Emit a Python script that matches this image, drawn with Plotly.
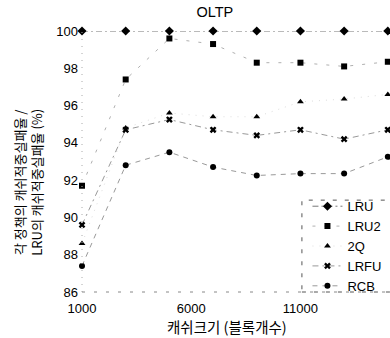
import plotly.graph_objects as go

cache_sizes = [1000, 3000, 5000, 7000, 9000, 11000, 13000, 15000]
lru = [100, 100, 100, 100, 100, 100, 100, 100]
lru2 = [91.7, 97.4, 99.6, 99.3, 98.3, 98.3, 98.1, 98.35]
twoq = [88.6, 94.8, 95.6, 95.4, 95.4, 96.2, 96.35, 96.6]
lrfu = [89.6, 94.7, 95.25, 94.7, 94.4, 94.7, 94.2, 94.7]
rcb = [87.4, 92.8, 93.5, 92.7, 92.25, 92.35, 92.35, 93.25]

series_names = ["LRU", "LRU2", "2Q", "LRFU", "RCB"]
x_title = "캐쉬크기 (블록개수)"
y_title = "각 정책의 캐쉬적중실패율 /<br>LRU의 캐쉬적중실패율 (%)"
chart_title = "OLTP"

styles = [
    # symbol, size, line color, dash
    ("diamond", 7, "#777777", "6px,3px,2px,3px"),
    ("square", 6, "#b0b0b0", "3px,9px"),
    ("triangle-up", 6, "#dddddd", "1px,6px"),
    ("x", 6, "#999999", "6px,4px,2px,4px"),
    ("circle", 6, "#999999", "5px,5px"),
]

fig = go.Figure()
for name, vals, (sym, size, lc, dash) in zip(series_names, [lru, lru2, twoq, lrfu, rcb], styles):
    fig.add_trace(go.Scatter(
        x=cache_sizes, y=vals, name=name, mode="lines+markers",
        line=dict(color=lc, width=1, dash=dash),
        marker=dict(symbol=sym, size=size, color="black", line=dict(width=0)),
        cliponaxis=False,
    ))

font_main = "Liberation Sans, Arial, sans-serif"
font_kr = "Noto Sans CJK KR, sans-serif"
fig.update_layout(
    width=390, height=338,
    margin=dict(l=82, r=0, t=31, b=46, autoexpand=False),
    paper_bgcolor="white", plot_bgcolor="white",
    font=dict(family=font_main, size=13, color="black"),
    title=dict(text=chart_title, x=0.551, xanchor="center", y=0.9645, yanchor="middle",
               font=dict(size=14.5, family=font_main)),
    showlegend=True,
    legend=dict(x=0.732, xanchor="left", y=0.386, yanchor="top",
                bgcolor="rgba(255,255,255,0)", borderwidth=0,
                font=dict(size=13, family=font_main),
                tracegroupgap=0),
    xaxis=dict(range=[1000, 15100], tickvals=[1000, 6000, 11000],
               ticktext=["1000", "6000", "11000"], showgrid=False, zeroline=False,
               showline=False, ticks="", ticklabelstandoff=7, automargin=False,
               tickfont=dict(size=13)),
    yaxis=dict(range=[86, 100], tickvals=[86, 88, 90, 92, 94, 96, 98, 100],
               showgrid=False, zeroline=False, showline=False, ticks="",
               ticklabelstandoff=3, automargin=False, tickfont=dict(size=13)),
    annotations=[
        dict(text=x_title, xref="paper", yref="paper", x=0.47, y=-0.134,
             xanchor="center", yanchor="middle", showarrow=False,
             font=dict(size=14.5, family=font_kr)),
        dict(text=y_title, xref="paper", yref="paper", x=-0.174, y=0.42,
             xanchor="center", yanchor="middle", showarrow=False, textangle=-90,
             font=dict(size=13, family=font_kr)),
    ],
)

# dotted axis lines
fig.add_shape(type="line", xref="paper", yref="paper", x0=0, x1=0, y0=0, y1=1,
              line=dict(color="#aaaaaa", width=1, dash="1px,6px"))
fig.add_shape(type="line", xref="paper", yref="paper", x0=0, x1=1, y0=0, y1=0,
              line=dict(color="#888888", width=1, dash="3px,9px"))
# dashed legend border
fig.add_shape(type="rect", xref="paper", yref="paper", x0=0.714, x1=1.05, y0=0, y1=0.352,
              line=dict(color="#555555", width=1, dash="4px,8px"), layer="below")

fig.write_html("out.html", config={"displayModeBar": False},
               post_script="document.body.style.margin='0';")
